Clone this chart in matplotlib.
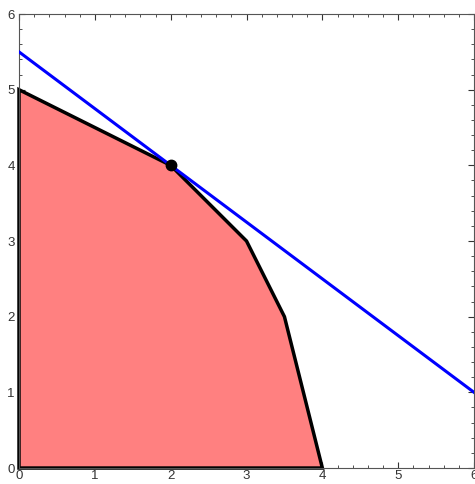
import matplotlib
matplotlib.use("Agg")
import matplotlib.pyplot as plt
from matplotlib.ticker import MultipleLocator

# feasible region vertices
region_x = [0, 0, 2, 3, 3.5, 4]
region_y = [0, 5, 4, 3, 2, 0]

# objective line
line_x = [0, 6]
line_y = [5.5, 1.0]

# optimum
opt_x = [2]
opt_y = [4]

plt.rcParams['font.family'] = ['Liberation Sans', 'DejaVu Sans']

fig = plt.figure(figsize=(4.75, 4.84), dpi=100)
ax = fig.add_axes([0.04, 0.033, 0.958, 0.938])

ax.fill(region_x, region_y, facecolor="#ff8080", edgecolor="black",
        linewidth=2.5, joinstyle="miter", zorder=2, clip_on=False)
ax.plot(line_x, line_y, color="blue", linewidth=2.2, zorder=3)
ax.plot(opt_x, opt_y, "o", color="black", markersize=7.5, zorder=4)

ax.set_xlim(0, 6)
ax.set_ylim(0, 6)
ax.xaxis.set_major_locator(MultipleLocator(1))
ax.yaxis.set_major_locator(MultipleLocator(1))
ax.xaxis.set_minor_locator(MultipleLocator(0.2))
ax.yaxis.set_minor_locator(MultipleLocator(0.2))
ax.tick_params(which="both", direction="in", top=True, right=True,
               labelsize=9.5, colors="#333333")
ax.tick_params(axis="x", pad=1.5)
ax.tick_params(axis="y", pad=3)
ax.tick_params(which="major", length=4, width=0.8)
ax.tick_params(which="minor", length=2, width=0.6)
for s in ax.spines.values():
    s.set_color("#555555")
    s.set_linewidth(0.8)

fig.savefig("out.png", dpi=100)
